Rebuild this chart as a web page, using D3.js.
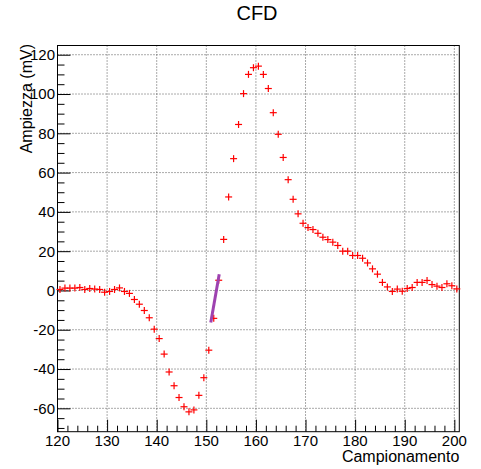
<!DOCTYPE html>
<html>
<head>
<meta charset="utf-8">
<script src="https://cdn.jsdelivr.net/npm/d3@7"></script>
<style>
  body { margin: 0; background: #fff; }
  text { font-family: "Liberation Sans", Arial, Helvetica, sans-serif; fill: #000; }
</style>
</head>
<body>
<div class="plot"></div>
<script>
// campioni (x = centro del bin) e ampiezze in mV
var campioni = d3.range(81).map(i => 120.5 + i);
var ampiezza = [
  0.5, 1.2, 1.2, 1.2, 1.5, 0.5, 1.0, 0.7, 0.5, -0.9,
  -0.5, 0.5, 1.3, -0.5, -1.5, -4.6, -7.0, -10.2, -13.9, -19.7,
  -24.5, -32.4, -41.5, -48.5, -54.5, -59.2, -61.8, -60.8, -53.4, -44.4,
  -30.4, -14.2, 5.2, 26.0, 47.6, 67.1, 84.5, 100.2, 110.0, 113.4,
  114.2, 110.0, 102.8, 90.5, 79.5, 67.7, 56.4, 46.4, 39.0, 34.2,
  32.0, 31.0, 29.1, 27.1, 25.9, 24.6, 22.9, 20.0, 20.0, 17.8,
  17.8, 16.4, 14.0, 11.0, 8.3, 4.1, 1.8, -0.5, 0.7, -0.4,
  1.0, 1.5, 4.1, 4.1, 5.1, 3.0, 2.2, 1.5, 3.4, 2.4,
  0.8
];

// retta del fit CFD sul fronte di salita
var fitX = [150.9, 152.6];
var fitY = [-16.3, 8.3];

var xTicks = [120, 130, 140, 150, 160, 170, 180, 190, 200];
var yTicks = [-60, -40, -20, 0, 20, 40, 60, 80, 100, 120];

var width = 481;
var height = 469;
var frame = {left: 57.5, right: 459.3, top: 45.5, bottom: 431.7};

var svg = d3.select(".plot").append("svg")
  .attr("width", width)
  .attr("height", height);

var x = d3.scaleLinear().domain([120, 201]).range([frame.left, frame.right]);
var y = d3.scaleLinear().domain([-71.9, 124.7]).range([frame.bottom, frame.top]);

// griglia tratteggiata
svg.append("g").selectAll("line")
  .data(xTicks.filter(d => d > 120))
  .enter().append("line")
  .attr("x1", d => x(d)).attr("x2", d => x(d))
  .attr("y1", frame.top).attr("y2", frame.bottom)
  .attr("stroke", "#555").attr("stroke-width", 1)
  .attr("stroke-dasharray", "1,2");

svg.append("g").selectAll("line")
  .data(yTicks)
  .enter().append("line")
  .attr("y1", d => y(d)).attr("y2", d => y(d))
  .attr("x1", frame.left).attr("x2", frame.right)
  .attr("stroke", "#555").attr("stroke-width", 1)
  .attr("stroke-dasharray", "1,2");

// asse x: tacche verso l'interno
var xAxis = d3.axisTop(x)
  .tickValues(d3.range(120, 201, 2))
  .tickSize(6)
  .tickFormat("");
svg.append("g")
  .attr("transform", "translate(0," + frame.bottom + ")")
  .call(xAxis)
  .call(g => g.select(".domain").remove())
  .call(g => g.selectAll(".tick line")
    .attr("stroke", "#000")
    .attr("y2", d => d % 10 == 0 ? -12 : -6));

svg.append("g").selectAll("text")
  .data(xTicks)
  .enter().append("text")
  .attr("x", d => x(d))
  .attr("y", frame.bottom + 14.5)
  .attr("text-anchor", "middle")
  .style("font-size", "15px")
  .text(d => d);

// asse y
var yAxis = d3.axisRight(y)
  .tickValues(d3.range(-70, 125, 5))
  .tickSize(7)
  .tickFormat("");
svg.append("g")
  .attr("transform", "translate(" + frame.left + ",0)")
  .call(yAxis)
  .call(g => g.select(".domain").remove())
  .call(g => g.selectAll(".tick line")
    .attr("stroke", "#000")
    .attr("x2", d => d % 20 == 0 ? 13 : 7));

svg.append("g").selectAll("text")
  .data(yTicks)
  .enter().append("text")
  .attr("x", frame.left - 2.5)
  .attr("y", d => y(d))
  .attr("dy", "0.36em")
  .attr("text-anchor", "end")
  .style("font-size", "15px")
  .text(d => d);

// cornice
svg.append("rect")
  .attr("x", frame.left).attr("y", frame.top)
  .attr("width", frame.right - frame.left)
  .attr("height", frame.bottom - frame.top)
  .attr("fill", "none")
  .attr("stroke", "#000")
  .attr("stroke-width", 1);

// punti: croci rosse
var points = campioni.map((c, i) => ({x: c, y: ampiezza[i]}));
var cross = svg.append("g").selectAll("g")
  .data(points)
  .enter().append("g")
  .attr("transform", d => "translate(" + x(d.x) + "," + y(d.y) + ")");
cross.append("line")
  .attr("x1", -3.5).attr("x2", 3.5).attr("y1", 0).attr("y2", 0)
  .attr("stroke", "#ff0000").attr("stroke-width", 1.2);
cross.append("line")
  .attr("x1", 0).attr("x2", 0).attr("y1", -3.5).attr("y2", 3.5)
  .attr("stroke", "#ff0000").attr("stroke-width", 1.2);

// retta del fit
svg.append("line")
  .attr("x1", x(fitX[0])).attr("y1", y(fitY[0]))
  .attr("x2", x(fitX[1])).attr("y2", y(fitY[1]))
  .attr("stroke", "#9e42b0")
  .attr("stroke-width", 3);

// titoli
svg.append("text")
  .attr("x", 257)
  .attr("y", 20)
  .attr("text-anchor", "middle")
  .style("font-size", "20px")
  .text("CFD");

svg.append("text")
  .attr("x", frame.right)
  .attr("y", 462)
  .attr("text-anchor", "end")
  .style("font-size", "16px")
  .text("Campionamento");

svg.append("text")
  .attr("transform", "translate(32,44) rotate(-90)")
  .attr("text-anchor", "end")
  .style("font-size", "16px")
  .text("Ampiezza (mV)");
</script>
</body>
</html>
